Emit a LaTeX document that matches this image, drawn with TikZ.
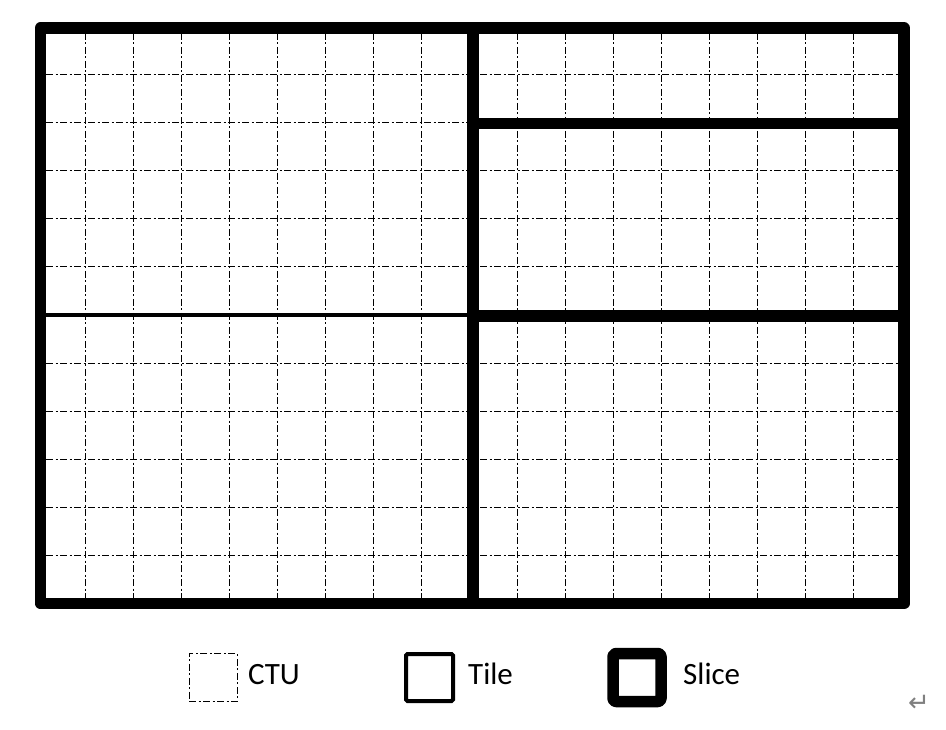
\documentclass[tikz,border=0pt]{standalone}
\usepackage{fontspec}
\setmainfont{Carlito}
\newfontfamily\symfont{DejaVu Sans}
\begin{document}
\begin{tikzpicture}[x=1pt,y=-1pt,
  ctu/.style={line width=1pt, dash pattern=on 7pt off 2.5pt on 2pt off 2.5pt, black},
  slice/.style={line width=11.5pt, line join=round},
  tile/.style={line width=4pt},
  lbl/.style={font=\fontsize{31}{36}\selectfont, anchor=base west, inner sep=0pt}]
\useasboundingbox[fill=white] (0,0) rectangle (946,730);
% CTU grid
\foreach \k in {1,...,17} \draw[ctu] ({37.7+48*\k},33) -- ({37.7+48*\k},598);
\foreach \k in {1,...,11} \draw[ctu] (46,{27+48*\k}) -- (898,{27+48*\k});
% tile boundary
\draw[tile] (46,315.5) -- (470,315.5);
% slice boundaries
\draw[slice] (472.8,28) -- (472.8,603.5);
\draw[slice] (472.8,123.5) -- (904,123.5);
\draw[slice] (472.8,315.8) -- (904,315.8);
\draw[slice] (40.5,28) rectangle (904,603.5);
% legend
\node[draw, ctu, minimum size=48pt, inner sep=0pt] (ctubox) at (213,677.5) {};
\node[lbl] (ctutxt) at (248,684.5) {CTU};
\node[draw, tile, rounded corners=1.5pt, minimum size=47pt, inner sep=0pt] (tilebox) at (429.5,677.5) {};
\node[lbl] (tiletxt) at (468,684.5) {Tile};
\node[draw, slice, rounded corners=3pt, minimum size=48pt, inner sep=0pt] (slicebox) at (637,677.5) {};
\node[lbl] (slicetxt) at (683,684.5) {Slice};
\node[font=\symfont\fontsize{26}{30}\selectfont, text=black!50, inner sep=0pt] (ret) at (919,703) {↵};
\end{tikzpicture}
\end{document}
